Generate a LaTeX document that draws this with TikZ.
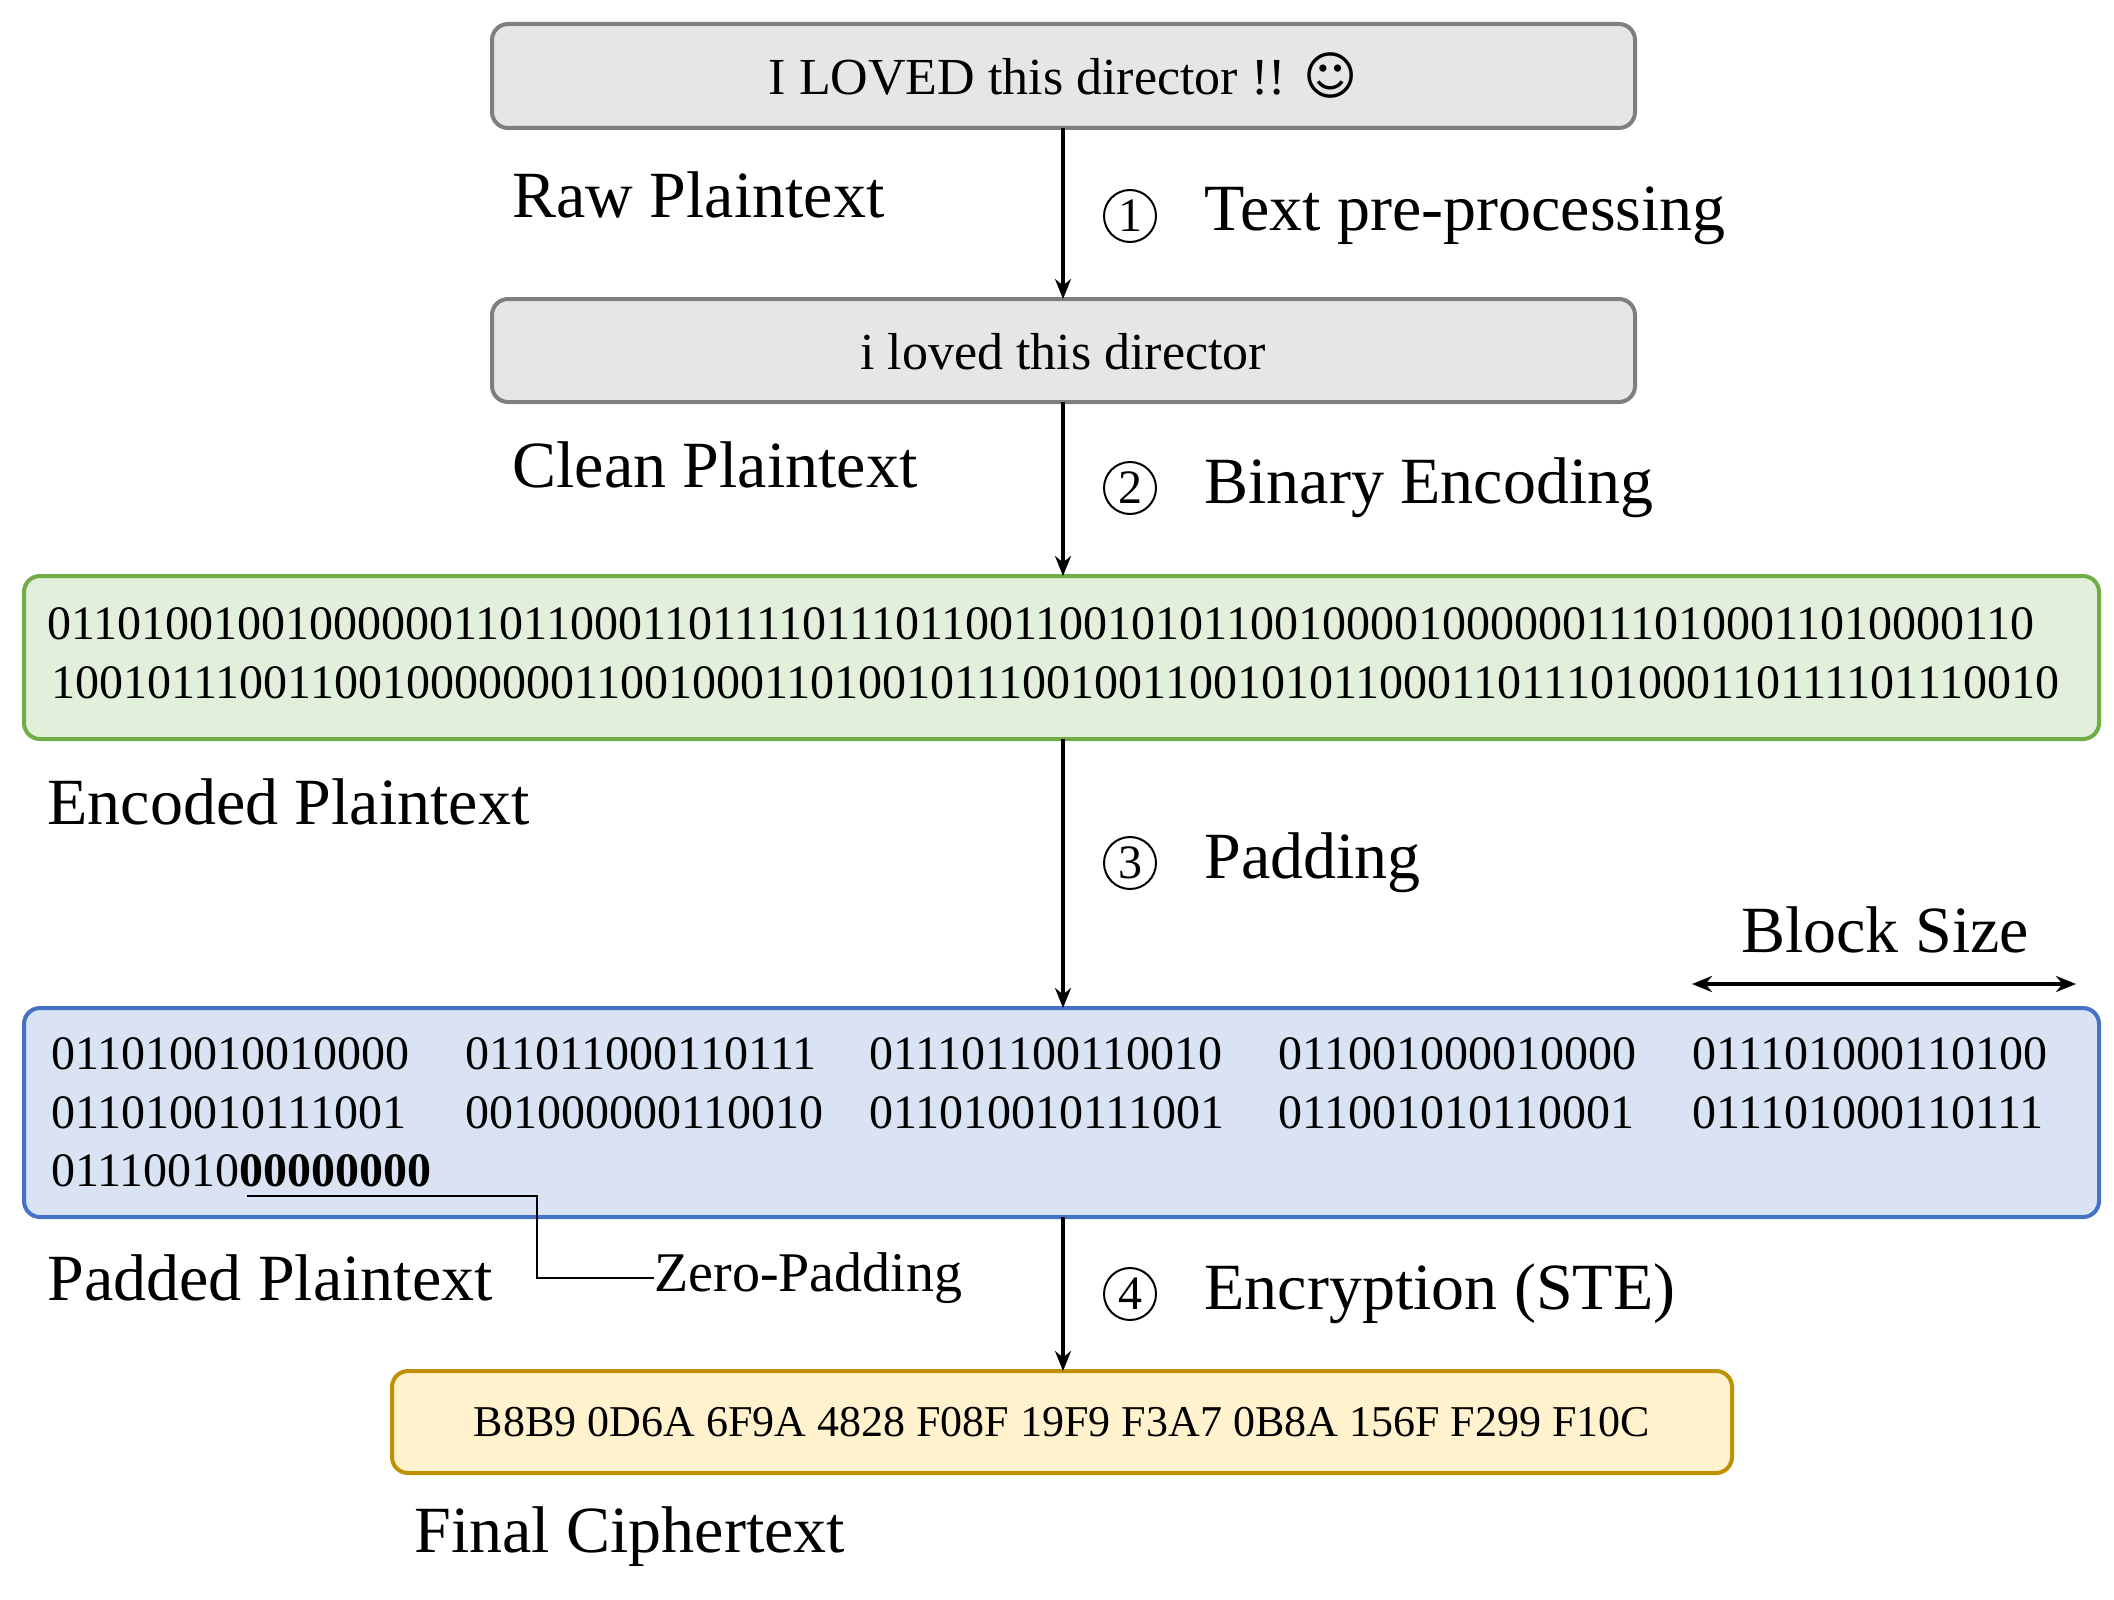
\documentclass[tikz,border=0pt]{standalone}
\usepackage{fontspec}
\setmainfont{Liberation Serif}
\newfontfamily\djv{DejaVu Sans}
\usetikzlibrary{arrows.meta}
\begin{document}
\begin{tikzpicture}[x=0.5pt,y=-0.5pt,
  box/.style={draw,line width=2pt,rounded corners=8pt},
  big/.style={font=\fontsize{33}{38}\selectfont,anchor=west,inner sep=0},
  bin/.style={font=\fontsize{24}{28}\selectfont,anchor=west,inner sep=0},
  stepc/.style={circle,draw,line width=1pt,inner sep=0,minimum size=26pt,font=\fontsize{24}{26}\selectfont},
  arr/.style={-{Stealth[length=10pt,width=8pt]},line width=2pt}]
\useasboundingbox (0,0) rectangle (2114,1600);
\definecolor{gb}{HTML}{E7E6E6}\definecolor{gd}{HTML}{7F7F7F}
\definecolor{grb}{HTML}{E2EFDA}\definecolor{grd}{HTML}{70AD47}
\definecolor{blb}{HTML}{DAE3F3}\definecolor{bld}{HTML}{4472C4}
\definecolor{yb}{HTML}{FFF2CC}\definecolor{yd}{HTML}{BF9000}
\draw[box,draw=gd,fill=gb] (492,24) rectangle (1635,128);
\node[font=\fontsize{26}{30}\selectfont] (t1) at (1063,76) {I LOVED this director !! {\djv ☺}};
\draw[box,draw=gd,fill=gb] (492,299) rectangle (1635,402);
\node[font=\fontsize{26}{30}\selectfont] (t2) at (1063,352) {i loved this director};
\draw[box,draw=grd,fill=grb] (24,576) rectangle (2099,739);
\node[bin] (e1) at (47,624) {011010010010000001101100011011110111011001100101011001000010000001110100011010000110};
\node[bin] (e2) at (51,683) {1001011100110010000000110010001101001011100100110010101100011011101000110111101110010};
\draw[box,draw=bld,fill=blb] (24,1008) rectangle (2099,1217);
\foreach \s/\x in {011010010010000/51,011011000110111/465,011101100110010/869,011001000010000/1278,011101000110100/1692}
  \node[bin] at (\x,1054) {\s};
\foreach \s/\x in {011010010111001/51,001000000110010/465,011010010111001/869,011001010110001/1278,011101000110111/1692}
  \node[bin] at (\x,1113) {\s};
\node[bin] (z) at (51,1171) {01110010\textbf{00000000}};
\draw[box,draw=yd,fill=yb] (392,1371) rectangle (1732,1473);
\node[font=\fontsize{22}{26}\selectfont] (c) at (1062,1422) {B8B9 0D6A 6F9A 4828 F08F 19F9 F3A7 0B8A 156F F299 F10C};
\coordinate (a1) at (1063,128); \coordinate (b1) at (1063,299);
\coordinate (a2) at (1063,402); \coordinate (b2) at (1063,576);
\coordinate (a3) at (1063,739); \coordinate (b3) at (1063,1008);
\coordinate (a4) at (1063,1217); \coordinate (b4) at (1063,1371);
\draw[arr] (a1)--(b1); \draw[arr] (a2)--(b2); \draw[arr] (a3)--(b3); \draw[arr] (a4)--(b4);
\node[big] (l1) at (512,195) {Raw Plaintext};
\node[big] (l2) at (512,465) {Clean Plaintext};
\node[big] (l3) at (47,802) {Encoded Plaintext};
\node[big] (l4) at (47,1278) {Padded Plaintext};
\node[big] (l5) at (414,1537) {Final Ciphertext};
\node[stepc] (s1) at (1130,216) {1}; \node[big] at (1204,216) {Text pre-processing};
\node[stepc] (s2) at (1130,488) {2}; \node[big] at (1204,488) {Binary Encoding};
\node[stepc] (s3) at (1130,863) {3}; \node[big] at (1204,863) {Padding};
\node[stepc] (s4) at (1130,1294) {4}; \node[big] at (1204,1294) {Encryption (STE)};
\node[font=\fontsize{33}{38}\selectfont] (bs) at (1885,930) {Block Size};
\coordinate (d1) at (1692,984); \coordinate (d2) at (2076,984);
\draw[{Stealth[length=10pt,width=8pt]}-{Stealth[length=10pt,width=8pt]},line width=2pt] (d1)--(d2);
\node[font=\fontsize{28}{32}\selectfont,anchor=west,inner sep=0] (zp) at (654,1278) {Zero-Padding};
\coordinate (z1) at (247,1196); \coordinate (z2) at (537,1196); \coordinate (z3) at (537,1278);
\draw[line width=1.2pt] (z1)--(z2)--(z3)--(zp.west);
\end{tikzpicture}
\end{document}
